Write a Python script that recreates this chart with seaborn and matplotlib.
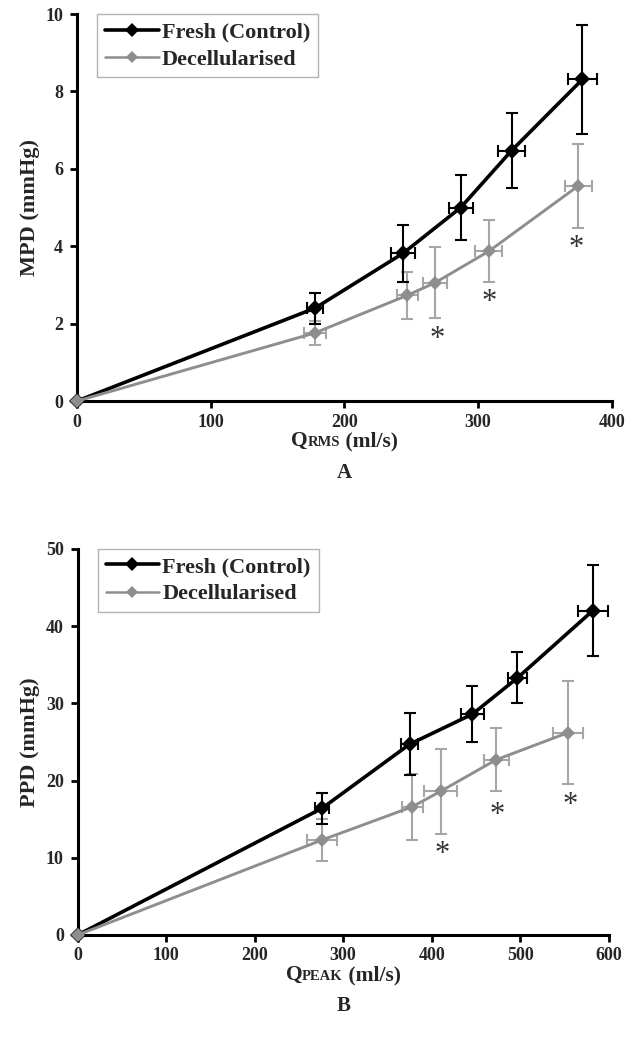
import numpy as np
import pandas as pd
import matplotlib
matplotlib.use("Agg")
import matplotlib.pyplot as plt
import seaborn as sns
from matplotlib.offsetbox import TextArea, HPacker, AnchoredOffsetbox

# ---------------- data ----------------
series_names = ["Fresh (Control)", "Decellularised"]

a_fresh_x = [0, 178, 244, 287, 325, 378]
a_fresh_y = [0, 2.40, 3.82, 5.00, 6.47, 8.31]
a_fresh_xerr = [0, 6, 9, 9, 10, 11]
a_fresh_yerr = [0, 0.40, 0.74, 0.85, 0.96, 1.40]

a_dec_x = [0, 178, 247, 268, 308, 375]
a_dec_y = [0, 1.76, 2.73, 3.06, 3.87, 5.56]
a_dec_xerr = [0, 8, 8, 9, 10, 10]
a_dec_yerr = [0, 0.30, 0.60, 0.92, 0.80, 1.08]

a_star_x = [269, 308, 373]
a_star_y = [1.58, 2.55, 3.95]

b_fresh_x = [0, 276, 375, 446, 497, 582]
b_fresh_y = [0, 16.4, 24.7, 28.6, 33.3, 42.0]
b_fresh_xerr = [0, 8, 10, 13, 11, 17]
b_fresh_yerr = [0, 2.0, 4.0, 3.6, 3.3, 5.9]

b_dec_x = [0, 276, 378, 410, 473, 554]
b_dec_y = [0, 12.3, 16.6, 18.6, 22.7, 26.2]
b_dec_xerr = [0, 17, 12, 19, 14, 17]
b_dec_yerr = [0, 2.7, 4.3, 5.5, 4.1, 6.7]

b_star_x = [412, 474, 556]
b_star_y = [10.4, 15.5, 16.8]

a_xticks = [0, 100, 200, 300, 400]
a_yticks = [0, 2, 4, 6, 8, 10]
b_xticks = [0, 100, 200, 300, 400, 500, 600]
b_yticks = [0, 10, 20, 30, 40, 50]

# ---------------- style ----------------
sns.set_style("ticks")
plt.rcParams["font.family"] = ["Liberation Serif", "DejaVu Serif"]
plt.rcParams["font.weight"] = "bold"

BLACK = "#000000"
GRAY = "#8e8e8e"
GRAY_ERR = "#a6a6a6"

fig = plt.figure(figsize=(6.32, 10.47), dpi=100)
axA = fig.add_axes([0.122, 0.617, 0.846, 0.3696])
axB = fig.add_axes([0.123, 0.107, 0.840, 0.3687])


def draw(ax, fx, fy, fxe, fye, dx, dy, dxe, dye, sx, sy, xticks, yticks,
         ylabel, qsub, panel):
    df = pd.concat([
        pd.DataFrame({"x": fx, "y": fy, "s": series_names[0]}),
        pd.DataFrame({"x": dx, "y": dy, "s": series_names[1]}),
    ], ignore_index=True)
    ax.errorbar(dx, dy, xerr=dxe, yerr=dye, fmt="none", ecolor=GRAY_ERR,
                elinewidth=1.5, capsize=4.5, capthick=1.5, zorder=2, clip_on=False)
    ax.errorbar(fx, fy, xerr=fxe, yerr=fye, fmt="none", ecolor=BLACK,
                elinewidth=1.5, capsize=4.5, capthick=1.5, zorder=3, clip_on=False)
    sns.lineplot(data=df, x="x", y="y", hue="s", style="s",
                 palette={series_names[0]: BLACK, series_names[1]: GRAY},
                 markers={series_names[0]: "D", series_names[1]: "D"},
                 dashes=False, sort=False, ax=ax, legend=False,
                 markeredgewidth=0, zorder=4, clip_on=False)
    for ln in ax.lines:
        c = matplotlib.colors.to_hex(ln.get_color())
        if c == BLACK:
            ln.set_linewidth(2.6)
            ln.set_markersize(8)
        elif c == GRAY:
            ln.set_linewidth(2.1)
            ln.set_markersize(7)
    for x, y in zip(sx, sy):
        ax.text(x, y, "*", ha="center", va="center", fontsize=22,
                color="#333333", fontweight="normal")

    ax.set_xlim(xticks[0], xticks[-1])
    ax.set_ylim(yticks[0], yticks[-1])
    ax.set_xticks(xticks)
    ax.set_yticks(yticks)
    ax.set_xticklabels([str(t) for t in xticks], fontsize=13, fontweight="bold")
    ax.set_yticklabels([str(t) for t in yticks], fontsize=13, fontweight="bold")
    ax.tick_params(axis="both", direction="out", length=5, width=2, pad=5,
                   color=BLACK)
    ax.tick_params(axis="x", pad=4)
    sns.despine(ax=ax)
    for sp in ("left", "bottom"):
        ax.spines[sp].set_linewidth(2.2)
        ax.spines[sp].set_color(BLACK)
    ax.set_ylabel(ylabel, fontsize=16, fontweight="bold", labelpad=4)
    ax.set_xlabel("")

    box = HPacker(children=[
        TextArea("Q", textprops=dict(fontsize=15.5, fontweight="bold")),
        TextArea(qsub, textprops=dict(fontsize=10.5, fontweight="bold")),
        TextArea(" (ml/s)", textprops=dict(fontsize=15.5, fontweight="bold")),
    ], align="baseline", pad=0, sep=0)
    anch = AnchoredOffsetbox(loc="upper center", child=box, frameon=False,
                             bbox_to_anchor=(0.5, -0.078),
                             bbox_transform=ax.transAxes, borderpad=0, pad=0)
    ax.add_artist(anch)
    ax.text(0.5, -0.185, panel, transform=ax.transAxes, ha="center",
            va="center", fontsize=15, fontweight="bold")

    handles = [
        matplotlib.lines.Line2D([], [], color=BLACK, lw=2.6, marker="D",
                                markersize=7, markeredgewidth=0),
        matplotlib.lines.Line2D([], [], color=GRAY, lw=1.8, marker="D",
                                markersize=6, markeredgewidth=0),
    ]
    leg = ax.legend(handles, series_names, loc="upper left",
                    bbox_to_anchor=(0.038, 1.0), frameon=True, fancybox=False,
                    prop=dict(size=16, weight="bold"), handlelength=2.4,
                    handletextpad=0.15, borderpad=0.35, labelspacing=0.3,
                    borderaxespad=0)
    leg.get_frame().set_edgecolor("#a0a0a0")
    leg.get_frame().set_linewidth(1.0)


draw(axA, a_fresh_x, a_fresh_y, a_fresh_xerr, a_fresh_yerr,
     a_dec_x, a_dec_y, a_dec_xerr, a_dec_yerr, a_star_x, a_star_y,
     a_xticks, a_yticks, "MPD (mmHg)", "RMS", "A")
draw(axB, b_fresh_x, b_fresh_y, b_fresh_xerr, b_fresh_yerr,
     b_dec_x, b_dec_y, b_dec_xerr, b_dec_yerr, b_star_x, b_star_y,
     b_xticks, b_yticks, "PPD (mmHg)", "PEAK", "B")

fig.savefig("out.png", dpi=100)
